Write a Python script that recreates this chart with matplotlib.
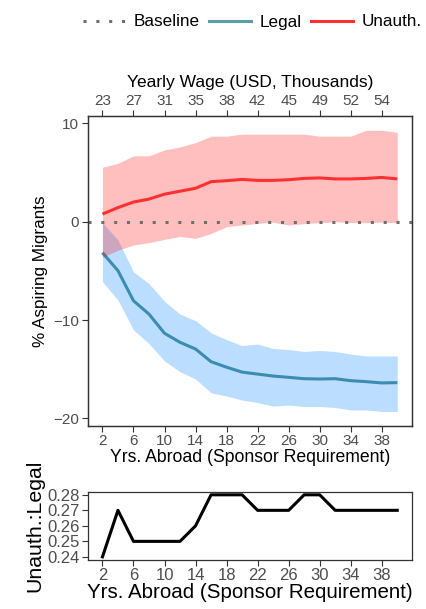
import matplotlib
matplotlib.use("Agg")
import matplotlib.pyplot as plt
from matplotlib.lines import Line2D

plt.rcParams['font.family'] = ['Liberation Sans', 'DejaVu Sans']

years = list(range(2, 41, 2))
wage_ticks = [2, 6, 10, 14, 18, 22, 26, 30, 34, 38]
wage_labels = ['23', '27', '31', '35', '38', '42', '45', '49', '52', '54']

unauth = [0.78, 1.43, 2.0, 2.3, 2.8, 3.1, 3.4, 4.07, 4.17, 4.3,
          4.2, 4.2, 4.27, 4.4, 4.45, 4.35, 4.35, 4.4, 4.5, 4.35]
unauth_hi = [5.53, 5.94, 6.7, 6.7, 7.3, 7.6, 8.04, 8.7, 8.7, 8.9,
             8.9, 8.9, 8.9, 8.9, 8.7, 8.7, 8.7, 9.3, 9.3, 9.1]
unauth_lo = [-3.6, -2.9, -2.37, -2.13, -1.8, -1.5, -1.7, -1.2, -0.5, -0.34,
             -0.17, -0.05, -0.34, -0.2, -0.1, 0.0, -0.1, -0.1, -0.05, -0.1]

legal = [-3.15, -4.98, -8.04, -9.4, -11.35, -12.27, -12.95, -14.24, -14.8, -15.3,
         -15.5, -15.7, -15.83, -15.97, -16.0, -15.97, -16.17, -16.27, -16.4, -16.37]
legal_hi = [-0.1, -1.86, -5.1, -6.3, -8.1, -9.4, -10.07, -11.3, -12.0, -12.6,
            -12.44, -12.9, -13.0, -13.2, -13.1, -13.2, -13.46, -13.66, -13.66, -13.66]
legal_lo = [-6.1, -7.97, -11.0, -12.4, -14.17, -15.26, -16.0, -17.4, -17.73, -18.14,
            -18.4, -18.75, -18.65, -18.8, -18.8, -18.9, -19.15, -19.15, -19.3, -19.3]

ratio = [0.24, 0.27, 0.25, 0.25, 0.25, 0.25, 0.26, 0.28, 0.28, 0.28,
         0.27, 0.27, 0.27, 0.28, 0.28, 0.27, 0.27, 0.27, 0.27, 0.27]

x_ticks = [2, 6, 10, 14, 18, 22, 26, 30, 34, 38]
y_ticks = [10, 0, -10, -20]
ratio_ticks = [0.24, 0.25, 0.26, 0.27, 0.28]

RED = '#FF3030'
BLUE_LINE = '#3A8DB0'
BLUE_FILL = '#3399FF'
TICK_C = '#4D4D4D'
FRAME_C = '#333333'

W, H = 427, 609
fig = plt.figure(figsize=(W / 100, H / 100), dpi=100)

def frac(l, t, r, b):
    return [l / W, 1 - b / H, (r - l) / W, (b - t) / H]

ax = fig.add_axes(frac(87.7, 116, 412, 425.7))
ax.fill_between(years, legal_lo, legal_hi, color=BLUE_FILL, alpha=0.33, lw=0, zorder=1)
ax.plot(years, legal, color=BLUE_LINE, lw=2.2, zorder=2, solid_capstyle='butt')
ax.fill_between(years, unauth_lo, unauth_hi, color='#FF0000', alpha=0.25, lw=0, zorder=3)
ax.plot(years, unauth, color=RED, lw=2.2, zorder=4, solid_capstyle='butt')
ax.axhline(0, color='#6E6E6E', lw=2.2, ls=(0, (1, 3.2)), zorder=5)

ax.set_xlim(0.1, 41.9)
ax.set_ylim(-20.75, 10.75)
ax.set_xticks(x_ticks)
ax.set_yticks(y_ticks)
ax.set_yticklabels(['10', '0', '\u221210', '\u221220'])
ax.tick_params(axis='both', colors=FRAME_C, labelcolor=TICK_C, labelsize=11,
               length=4, width=0.8, pad=2)
for s in ax.spines.values():
    s.set_color(FRAME_C)
    s.set_linewidth(0.9)
ax.set_xlabel('Yrs. Abroad (Sponsor Requirement)', fontsize=12.7, labelpad=1)
ax.set_ylabel('% Aspiring Migrants', fontsize=12.3, labelpad=4)

ax2 = ax.twiny()
ax2.set_xlim(ax.get_xlim())
ax2.set_xticks(wage_ticks)
ax2.set_xticklabels(wage_labels)
ax2.tick_params(axis='x', colors=FRAME_C, labelcolor=TICK_C, labelsize=11,
                length=4, width=0.8, pad=2)
ax2.set_xlabel('Yearly Wage (USD, Thousands)', fontsize=12.5, labelpad=5)
for s in ax2.spines.values():
    s.set_color(FRAME_C)
    s.set_linewidth(0.9)

bx = fig.add_axes(frac(87.7, 491.7, 412, 560))
bx.plot(years, ratio, color='black', lw=2.2)
bx.set_xlim(0.1, 41.9)
bx.set_ylim(0.238, 0.282)
bx.set_xticks(x_ticks)
bx.set_yticks(ratio_ticks)
bx.set_yticklabels(['0.24', '0.25', '0.26', '0.27', '0.28'])
bx.tick_params(axis='both', colors=FRAME_C, labelcolor=TICK_C, labelsize=12,
               length=4, width=0.8, pad=2)
for s in bx.spines.values():
    s.set_color(FRAME_C)
    s.set_linewidth(0.9)
bx.set_xlabel('Yrs. Abroad (Sponsor Requirement)', fontsize=14.8, labelpad=0)
bx.set_ylabel('Unauth.:Legal', fontsize=15.3, labelpad=2)

handles = [
    Line2D([], [], color='#6E6E6E', lw=2.2, ls=(0, (1, 3.2))),
    Line2D([], [], color='#5A9EA5', lw=2.2),
    Line2D([], [], color=RED, lw=2.2),
]
fig.legend(handles, ['Baseline', 'Legal', 'Unauth.'], loc='center',
           bbox_to_anchor=(252 / W, 1 - 22 / H), ncol=3, frameon=False,
           fontsize=12.3, handlelength=2.46, handletextpad=0.5, columnspacing=0.55,
           borderaxespad=0, borderpad=0)

fig.savefig('out.png', dpi=100)
